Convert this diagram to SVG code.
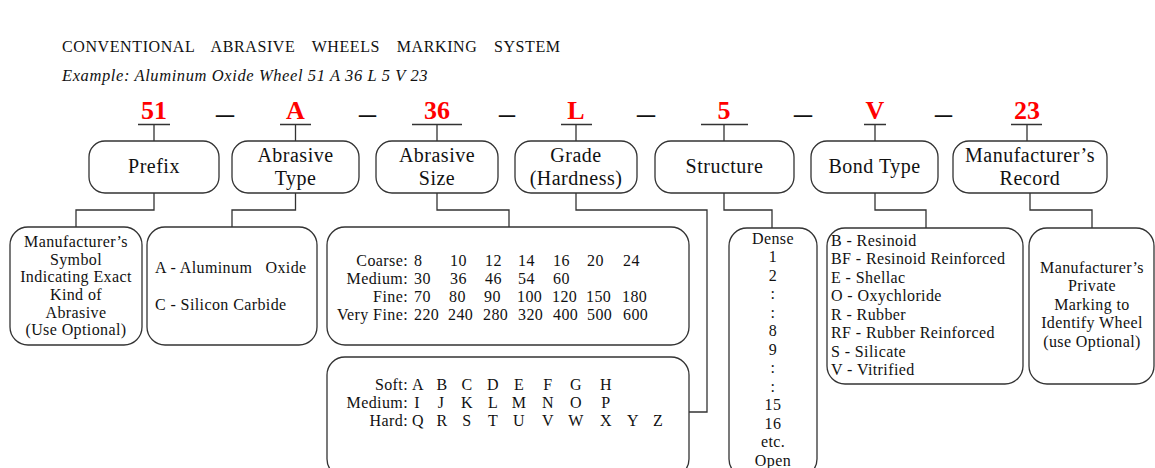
<svg xmlns="http://www.w3.org/2000/svg" width="1155" height="468" viewBox="0 0 1155 468">
  <style>
    .box{fill:#fff;stroke:#333;stroke-width:1.3}
    .ln{fill:none;stroke:#333;stroke-width:1.3}
    .t{font-family:"Liberation Serif","Times New Roman",serif;font-size:16px;fill:#111;letter-spacing:0.4px}
    .h{font-size:20px;letter-spacing:0.5px}
    .c{text-anchor:middle}
    .r{text-anchor:end}
    .code{font-family:"Liberation Serif","Times New Roman",serif;font-weight:bold;font-size:26px;fill:#f00;text-anchor:middle}
    .dash{font-family:"Liberation Serif","Times New Roman",serif;font-weight:bold;font-size:26px;fill:#111}
  </style>
  <rect width="1155" height="468" fill="#fff"/>

  <!-- heading -->
  <g id="heading">
    <text class="t" x="62" y="52" style="letter-spacing:0.6px;word-spacing:12px">CONVENTIONAL ABRASIVE WHEELS MARKING SYSTEM</text>
    <text class="t" x="62" y="81" font-style="italic" style="font-size:16.5px;letter-spacing:0.6px">Example: Aluminum Oxide Wheel 51 A 36 L 5 V 23</text>
  </g>

  <!-- marking code characters and separators -->
  <g id="code">
    <text class="code" x="154" y="119">51</text>
    <text class="code" x="295.5" y="119">A</text>
    <text class="code" x="437" y="119">36</text>
    <text class="code" x="576" y="119">L</text>
    <text class="code" x="724" y="119">5</text>
    <text class="code" x="875" y="119">V</text>
    <text class="code" x="1027" y="119">23</text>
    <text class="dash" x="216" y="122" textLength="18" lengthAdjust="spacingAndGlyphs">–</text>
    <text class="dash" x="359" y="122" textLength="17" lengthAdjust="spacingAndGlyphs">–</text>
    <text class="dash" x="499" y="122" textLength="16" lengthAdjust="spacingAndGlyphs">–</text>
    <text class="dash" x="637" y="122" textLength="18" lengthAdjust="spacingAndGlyphs">–</text>
    <text class="dash" x="794" y="122" textLength="18" lengthAdjust="spacingAndGlyphs">–</text>
    <text class="dash" x="935" y="122" textLength="17" lengthAdjust="spacingAndGlyphs">–</text>
  </g>

  <!-- connectors -->
  <g id="connectors" class="ln">
    <path d="M138 124.5H170M154 124.5V141"/>
    <path d="M280 124.5H311M295.5 124.5V141"/>
    <path d="M412 124.5H462M437 124.5V141"/>
    <path d="M561 124.5H592M576 124.5V141"/>
    <path d="M701 124.5H748M724 124.5V141"/>
    <path d="M864 124.5H886M875 124.5V141"/>
    <path d="M1011 124.5H1042M1027 124.5V141"/>
    <path d="M154 193V210H76V227"/>
    <path d="M295.5 193V210H232V227"/>
    <path d="M437 193V210H509V227"/>
    <path d="M576 193V210H707V412H689"/>
    <path d="M724 193V210H772V228"/>
    <path d="M875 193V210H926V228"/>
    <path d="M1030 193V210H1092V228"/>
  </g>

  <!-- category boxes -->
  <g id="prefix">
    <rect class="box" x="89" y="141" width="130" height="52" rx="16"/>
    <text class="t h c" x="154" y="173">Prefix</text>
  </g>
  <g id="abrasive-type">
    <rect class="box" x="232" y="141" width="127" height="52" rx="16"/>
    <text class="t h c" x="295.5" y="162">Abrasive</text>
    <text class="t h c" x="295.5" y="185">Type</text>
  </g>
  <g id="abrasive-size">
    <rect class="box" x="376" y="141" width="122" height="52" rx="16"/>
    <text class="t h c" x="437" y="162">Abrasive</text>
    <text class="t h c" x="437" y="185">Size</text>
  </g>
  <g id="grade">
    <rect class="box" x="515" y="141" width="122" height="52" rx="16"/>
    <text class="t h c" x="576" y="162">Grade</text>
    <text class="t h c" x="576" y="185">(Hardness)</text>
  </g>
  <g id="structure">
    <rect class="box" x="655" y="141" width="139" height="52" rx="16"/>
    <text class="t h c" x="724.5" y="173">Structure</text>
  </g>
  <g id="bond-type">
    <rect class="box" x="811" y="141" width="127" height="52" rx="16"/>
    <text class="t h c" x="874.5" y="173">Bond Type</text>
  </g>
  <g id="manufacturer-record">
    <rect class="box" x="953" y="141" width="154" height="52" rx="16"/>
    <text class="t h c" x="1030" y="162">Manufacturer’s</text>
    <text class="t h c" x="1030" y="185">Record</text>
  </g>

  <!-- detail boxes -->
  <g id="prefix-detail">
    <rect class="box" x="10" y="227" width="132" height="118" rx="18"/>
    <text class="t c" x="76" y="247">Manufacturer’s</text>
    <text class="t c" x="76" y="265">Symbol</text>
    <text class="t c" x="76" y="282">Indicating Exact</text>
    <text class="t c" x="76" y="300">Kind of</text>
    <text class="t c" x="76" y="318">Abrasive</text>
    <text class="t c" x="76" y="335">(Use Optional)</text>
  </g>
  <g id="type-detail">
    <rect class="box" x="147" y="227" width="170" height="118" rx="18"/>
    <text class="t" x="155" y="273" xml:space="preserve">A - Aluminum   Oxide</text>
    <text class="t" x="155" y="310">C - Silicon Carbide</text>
  </g>
  <g id="size-detail">
    <rect class="box" x="327" y="227" width="362" height="118" rx="18"/>
    <g class="t r">
      <text x="408" y="266">Coarse:</text>
      <text x="408" y="284">Medium:</text>
      <text x="408" y="302">Fine:</text>
      <text x="408" y="320">Very Fine:</text>
    </g>
    <g class="t">
      <text y="266"><tspan x="414">8</tspan><tspan x="450">10</tspan><tspan x="485">12</tspan><tspan x="518">14</tspan><tspan x="553">16</tspan><tspan x="587">20</tspan><tspan x="623">24</tspan></text>
      <text y="284"><tspan x="414">30</tspan><tspan x="450">36</tspan><tspan x="485">46</tspan><tspan x="518">54</tspan><tspan x="553">60</tspan></text>
      <text y="302"><tspan x="414">70</tspan><tspan x="449">80</tspan><tspan x="484">90</tspan><tspan x="517">100</tspan><tspan x="552">120</tspan><tspan x="586">150</tspan><tspan x="622">180</tspan></text>
      <text y="320"><tspan x="414">220</tspan><tspan x="448">240</tspan><tspan x="483">280</tspan><tspan x="518">320</tspan><tspan x="553">400</tspan><tspan x="587">500</tspan><tspan x="623">600</tspan></text>
    </g>
  </g>
  <g id="grade-detail">
    <rect class="box" x="327" y="357" width="362" height="120" rx="18"/>
    <g class="t r">
      <text x="408" y="390">Soft:</text>
      <text x="408" y="408">Medium:</text>
      <text x="408" y="426">Hard:</text>
    </g>
    <g class="t c">
      <text y="390"><tspan x="418">A</tspan><tspan x="442">B</tspan><tspan x="467">C</tspan><tspan x="493">D</tspan><tspan x="519">E</tspan><tspan x="548">F</tspan><tspan x="576">G</tspan><tspan x="606">H</tspan></text>
      <text y="408"><tspan x="417">I</tspan><tspan x="441">J</tspan><tspan x="467">K</tspan><tspan x="493">L</tspan><tspan x="519">M</tspan><tspan x="548">N</tspan><tspan x="576">O</tspan><tspan x="606">P</tspan></text>
      <text y="426"><tspan x="418">Q</tspan><tspan x="442">R</tspan><tspan x="467">S</tspan><tspan x="493">T</tspan><tspan x="519">U</tspan><tspan x="548">V</tspan><tspan x="576">W</tspan><tspan x="606">X</tspan><tspan x="633">Y</tspan><tspan x="658">Z</tspan></text>
    </g>
  </g>
  <g id="structure-detail">
    <rect class="box" x="729" y="228" width="88" height="249" rx="18"/>
    <g class="t c">
      <text x="773" y="244">Dense</text>
      <text x="773" y="262">1</text>
      <text x="773" y="281">2</text>
      <text x="773" y="299">:</text>
      <text x="773" y="318">:</text>
      <text x="773" y="336">8</text>
      <text x="773" y="355">9</text>
      <text x="773" y="373">:</text>
      <text x="773" y="392">:</text>
      <text x="773" y="410">15</text>
      <text x="773" y="429">16</text>
      <text x="773" y="447">etc.</text>
      <text x="773" y="466">Open</text>
    </g>
  </g>
  <g id="bond-detail">
    <rect class="box" x="827" y="228" width="196" height="156" rx="18"/>
    <g class="t">
      <text x="831" y="246">B - Resinoid</text>
      <text x="831" y="264">BF - Resinoid Reinforced</text>
      <text x="831" y="283">E - Shellac</text>
      <text x="831" y="301">O - Oxychloride</text>
      <text x="831" y="320">R - Rubber</text>
      <text x="831" y="338">RF - Rubber Reinforced</text>
      <text x="831" y="357">S - Silicate</text>
      <text x="831" y="375">V - Vitrified</text>
    </g>
  </g>
  <g id="record-detail">
    <rect class="box" x="1029" y="228" width="125" height="156" rx="18"/>
    <g class="t c">
      <text x="1092" y="273">Manufacturer’s</text>
      <text x="1092" y="291">Private</text>
      <text x="1092" y="310">Marking to</text>
      <text x="1092" y="328">Identify Wheel</text>
      <text x="1092" y="347">(use Optional)</text>
    </g>
  </g>
</svg>
